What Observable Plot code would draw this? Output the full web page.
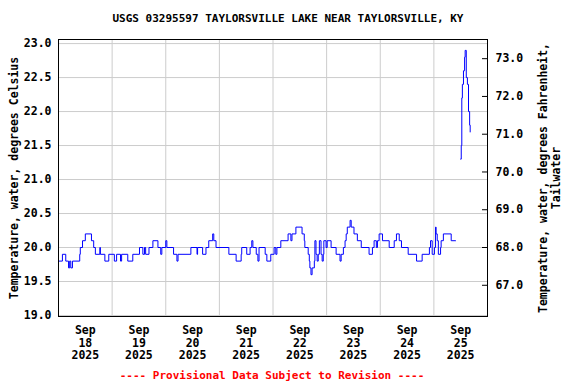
<!DOCTYPE html>
<html><head><meta charset="utf-8">
<script src="https://cdn.jsdelivr.net/npm/d3@7"></script>
<script src="https://cdn.jsdelivr.net/npm/@observablehq/plot@0.6"></script>
<style>
body{margin:0;background:#fff;}
#wrap{width:576px;font-family:"DejaVu Sans Mono",monospace;font-weight:bold;}
#title{box-sizing:border-box;height:32px;padding-top:13px;text-align:center;font-size:11px;line-height:12px;color:#000;}
#caption{height:16px;line-height:16px;width:544px;text-align:center;font-size:11px;color:#f00;}
svg{display:block;}
</style></head><body>
<div id="wrap">
<div id="title">USGS 03295597 TAYLORSVILLE LAKE NEAR TAYLORSVILLE, KY</div>
<div id="chart"></div>
<div id="caption">---- Provisional Data Subject to Revision ----</div>
</div>
<script>
// Hours since 2025-09-18 00:00 at which the reading changes, and the reading (deg C)
const seriesHours = [0,1.75,3.25,4.5,5,5.5,6.25,9.5,9.75,10.75,12,14.75,15.75,16.5,18.5,18.75,20.75,22.5,25,26,27.75,28.25,31,33.25,36.25,37.75,38.5,39,40.5,42.25,44.5,45.75,46.25,48,48.5,51.5,53,53.5,59.25,62,62.25,64.5,66,67.25,69,69.5,70.5,76.25,79.5,81.75,82,84.25,85.75,86.5,87,88.5,89.25,89.75,92.5,93.25,95,96.5,97.25,97.75,99.5,102.75,104,104.5,106.25,109,110,110.25,111.75,112.25,112.5,113,113.5,114.5,114.75,115.25,115.75,116.25,116.75,117.5,118,118.5,118.75,119.75,120.25,122,124.25,126,126.5,127.5,128.25,128.75,129.25,130.5,131,132.25,133.75,135.5,139,140.5,141.25,142.25,142.75,143.5,145,148,150.25,151.25,152.5,153.5,156.5,160.25,162.75,166,166.5,167.25,168.25,168.75,169,169.5,170,171,171.25,172.25,175.75,177.75];
const seriesTempC = [19.8,19.9,19.8,19.7,19.8,19.7,19.8,19.9,20.0,20.1,20.2,20.1,20.0,19.9,20.0,19.9,19.8,19.9,19.8,19.9,19.8,19.9,19.8,19.9,20.0,19.9,20.0,19.9,20.0,20.1,20.0,19.9,20.0,20.1,20.0,19.9,19.8,19.9,20.0,19.9,20.0,19.9,20.0,20.1,20.2,20.1,20.0,19.9,19.8,19.9,20.0,19.9,20.0,20.1,20.0,19.9,19.8,20.0,19.9,19.8,19.9,20.0,19.9,20.0,20.1,20.2,20.1,20.2,20.3,20.2,20.1,20.0,19.9,19.8,19.7,19.6,19.7,19.8,20.1,19.9,19.8,19.9,20.1,19.9,19.8,19.9,20.1,20.0,20.1,20.0,19.9,19.8,19.9,20.0,20.1,20.2,20.3,20.4,20.3,20.2,20.1,20.0,19.9,20.0,20.1,20.0,20.1,20.2,20.1,20.0,20.1,20.2,20.1,20.0,19.9,19.8,19.9,20.0,20.1,19.9,20.0,20.3,20.2,20.1,19.9,20.0,20.1,20.2,20.1,20.1];
const spikeHours = [180,180.25,180.5,180.75,181.25,181.75,182,182.5,183,183.5,184,184.25];
const spikeTempC = [21.3,21.5,22.2,22.4,22.6,22.8,22.9,22.5,22.4,22.0,21.8,21.7];
const dayNumbers = [18,19,20,21,22,23,24,25];
const gridDays = [19,20,21,22,23,24,25];
const celsiusTicks = [19.0,19.5,20.0,20.5,21.0,21.5,22.0,22.5,23.0];
const fahrenheitTicks = [67,68,69,70,71,72,73];
const leftLabel = "Temperature, water, degrees Celsius";
const rightLabel = "Temperature, water, degrees Fahrenheit,\nTailwater";

const t0 = Date.UTC(2025, 8, 18);
const toDate = h => new Date(t0 + h * 3600e3);
const data = [
  ...seriesHours.map((h, i) => ({t: toDate(h), c: seriesTempC[i], seg: "a"})),
  ...spikeHours.map((h, i) => ({t: toDate(h), c: spikeTempC[i], seg: "b"}))
];
const noons = dayNumbers.map(d => new Date(Date.UTC(2025, 8, d, 12)));
const midnights = gridDays.map(d => new Date(Date.UTC(2025, 8, d)));
const f2c = f => (f - 32) * 5 / 9;
const c2f = c => c * 9 / 5 + 32;
const fTicksC = fahrenheitTicks.map(f2c);

const font = "DejaVu Sans Mono, monospace";
const chart = Plot.plot({
  width: 576,
  height: 336,
  marginLeft: 58,
  marginRight: 89,
  marginTop: 7,
  marginBottom: 52,
  style: {fontFamily: font, fontWeight: "bold", fontSize: "11px", color: "#000", background: "#fff"},
  x: {type: "utc", domain: [new Date(t0), new Date(Date.UTC(2025, 8, 26))]},
  y: {domain: [18.985, 23.06]},
  marks: [
    Plot.gridY(celsiusTicks, {stroke: "#cccccc", strokeOpacity: 1}),
    Plot.gridX(midnights, {stroke: "#cccccc", strokeOpacity: 1}),
    Plot.lineY(data, {x: "t", y: "c", z: "seg", stroke: "#0000ff", strokeWidth: 1, curve: "step-after"}),
    Plot.tickY(fTicksC, {y: d => d, stroke: "#000", insetLeft: 424}),
    Plot.frame({stroke: "#000", strokeWidth: 1}),
    Plot.axisY(celsiusTicks, {anchor: "left", tickSize: 0, tickPadding: 7, tickFormat: d => d.toFixed(1), label: null, fontSize: 11.5, fontWeight: "bold"}),
    Plot.axisY(fTicksC, {anchor: "right", tickSize: 0, tickPadding: 8, tickFormat: d => c2f(d).toFixed(1), label: null, fontSize: 11.5, fontWeight: "bold"}),
    Plot.axisX(noons, {anchor: "bottom", tickSize: 0, tickPadding: 8, tickFormat: d => `Sep\n${d.getUTCDate()}\n2025`, label: null, lineHeight: 1.12, fontSize: 11.5, fontWeight: "bold"}),
    Plot.text([leftLabel], {text: d => d, frameAnchor: "left", textAnchor: "middle", lineAnchor: "middle", dx: -44, rotate: -90, fontSize: 11.5, fontWeight: "bold", fill: "#000"}),
    Plot.text([rightLabel], {text: d => d, frameAnchor: "right", textAnchor: "middle", lineAnchor: "middle", dx: 62, rotate: -90, lineHeight: 1.15, fontSize: 11.5, fontWeight: "bold", fill: "#000"})
  ]
});
document.getElementById("chart").appendChild(chart);
</script>
</body></html>
